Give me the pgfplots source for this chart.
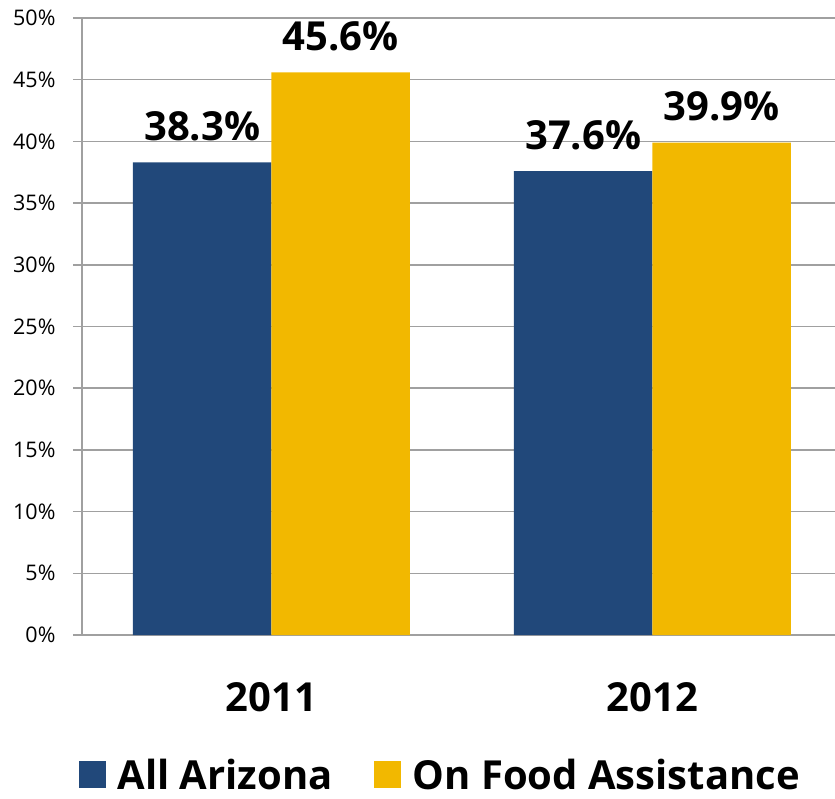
\documentclass[border=0pt]{standalone}
\usepackage{pgfplots}
\pgfplotsset{compat=1.18}
\usepackage{fontspec}
\setmainfont{Open Sans}
\definecolor{azblue}{RGB}{33,72,122}
\definecolor{azgold}{RGB}{242,184,0}
\definecolor{gridgray}{RGB}{160,160,160}
\begin{document}
\begin{tikzpicture}
\useasboundingbox (0,0) rectangle (835pt,798pt);
\begin{axis}[
  at={(82pt,163pt)}, anchor=south west,
  width=753pt, height=617pt, scale only axis,
  ybar,
  xmin=-0.497, xmax=1.479, ymin=0, ymax=50,
  ytick={0,5,...,50},
  yticklabel={\pgfmathprintnumber{\tick}\%},
  /pgf/number format/assume math mode=true,
  xtick={0,1}, xticklabels={2011,2012},
  ymajorgrids, grid style={gridgray, line width=1.5pt},
  axis x line*=bottom, axis y line*=left,
  axis line style={-, gridgray, line width=1.5pt},
  ytick style={gridgray, line width=1.5pt},
  xtick style={draw=none},
  tick align=outside, major tick length=9pt,
  yticklabel style={font=\fontsize{21.5}{24}\selectfont, xshift=-14pt},
  xticklabel style={font=\bfseries\fontsize{40}{48}\selectfont, yshift=-35pt},
  bar width=0.3635,
  nodes near coords={\pgfmathprintnumber[fixed,precision=1,fixed zerofill]{\pgfplotspointmeta}\%},
  every node near coord/.append style={font=\bfseries\fontsize{40}{48}\selectfont, black, anchor=base, yshift=22pt},
  legend style={at={(0.475,-0.225)}, anchor=center, draw=none, fill=none,
    legend columns=2, font=\bfseries\fontsize{40}{48}\selectfont,
    nodes={inner sep=1pt, text depth=0pt},
    /tikz/every odd column/.append style={column sep=11pt},
    /tikz/every even column/.append style={column sep=40pt}},
  legend image code/.code={\fill[#1] (0pt,-14pt) rectangle (27pt,13pt);},
]
\addplot[bar shift=-0.18175, fill=azblue, draw=none] coordinates {(0,38.3) (1,37.6)};
\addlegendentry{All Arizona}
\addplot[bar shift=0.18175, fill=azgold, draw=none] coordinates {(0,45.6) (1,39.9)};
\addlegendentry{On Food Assistance}
\end{axis}
\end{tikzpicture}
\end{document}
